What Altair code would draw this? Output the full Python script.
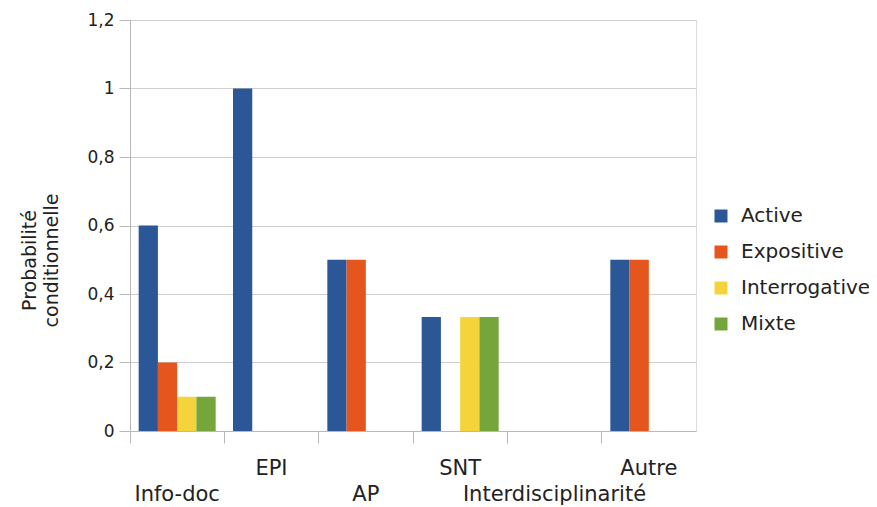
import altair as alt
import pandas as pd

categories = ["Info-doc", "EPI", "AP", "SNT", "Interdisciplinarité", "Autre"]
series = ["Active", "Expositive", "Interrogative", "Mixte"]
colors = ["#2b5797", "#e5561e", "#f4d43a", "#74a63b"]

active = [0.6, 1.0, 0.5, 0.333, None, 0.5]
expositive = [0.2, None, 0.5, None, None, 0.5]
interrogative = [0.1, None, None, 0.333, None, None]
mixte = [0.1, None, None, 0.333, None, None]

y_ticks = [0, 0.2, 0.4, 0.6, 0.8, 1.0, 1.2]
lower_labels = ["Info-doc", "AP", "Interdisciplinarité"]

rows = []
for s, vals in zip(series, [active, expositive, interrogative, mixte]):
    for c, v in zip(categories, vals):
        if v is not None:
            rows.append({"cat": c, "serie": s, "val": v})
df = pd.DataFrame(rows)

FONT = "DejaVu Sans"
TXT = "#222222"

lower_js = "[" + ",".join("'%s'" % l for l in lower_labels) + "]"

chart = alt.Chart(df).mark_bar().encode(
    x=alt.X(
        "cat:N",
        sort=categories,
        scale=alt.Scale(domain=categories, paddingInner=0, paddingOuter=0),
        axis=alt.Axis(
            title=None,
            bandPosition=0,
            labelAngle=0,
            labelAlign="center",
            labelBaseline="top",
            labelFont=FONT,
            labelFontSize=21,
            labelColor=TXT,
            labelPadding=14,
            labelLineHeight=26,
            labelLimit=0,
            labelExpr="indexof(" + lower_js + ", datum.value) >= 0 ? ['', datum.value] : datum.value",
            tickSize=12,
            tickColor="#b8b8b8",
            domainColor="#b8b8b8",
            grid=False,
        ),
    ),
    xOffset=alt.XOffset(
        "serie:N",
        sort=series,
        scale=alt.Scale(domain=series, paddingInner=0, paddingOuter=0.45),
    ),
    y=alt.Y(
        "val:Q",
        scale=alt.Scale(domain=[0, 1.2], nice=False),
        axis=alt.Axis(
            values=y_ticks,
            title=["Probabilité", "conditionnelle"],
            titleFont=FONT,
            titleFontSize=19,
            titleFontWeight="normal",
            titleColor=TXT,
            titleAngle=-90,
            titleAlign="center",
            titleBaseline="top",
            titleX=-110,
            titleY=240,
            titleLineHeight=22,
            labelFont=FONT,
            labelFontSize=17,
            labelColor=TXT,
            labelPadding=5,
            labelExpr="replace(format(datum.value, '.1~f'), '.', ',')",
            tickSize=11,
            tickColor="#b8b8b8",
            domainColor="#b8b8b8",
            gridColor="#cfcfcf",
        ),
    ),
    color=alt.Color(
        "serie:N",
        sort=series,
        scale=alt.Scale(domain=series, range=colors),
        legend=alt.Legend(
            title=None,
            orient="none",
            legendX=581,
            legendY=186,
            symbolType="square",
            symbolSize=169,
            symbolStrokeWidth=0,
            labelFont=FONT,
            labelFontSize=20,
            labelColor=TXT,
            labelOffset=10,
            labelLimit=0,
            rowPadding=16,
            padding=0,
        ),
    ),
).properties(
    width=566,
    height=411,
    autosize=alt.AutoSizeParams(type="none"),
    padding={"left": 122, "top": 12, "right": 173, "bottom": 76},
).configure_view(stroke=None).configure(background="white")

chart.save("out.html", embed_options={"renderer": "svg", "actions": False})
